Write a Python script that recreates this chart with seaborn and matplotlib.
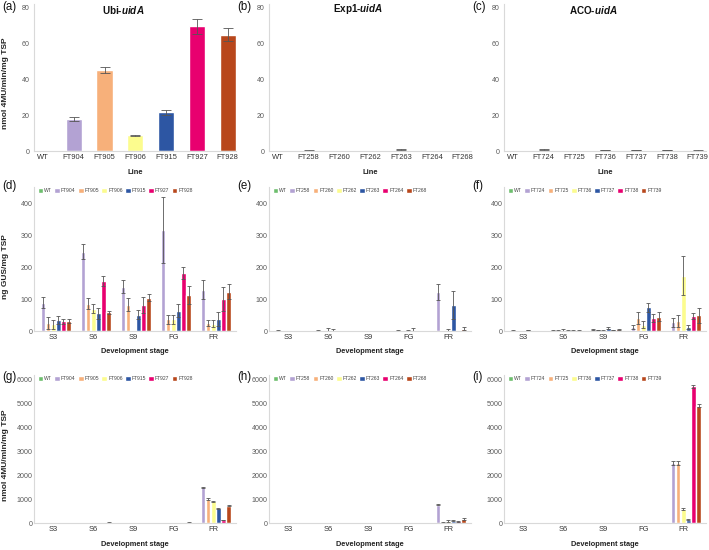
import numpy as np
import pandas as pd
import matplotlib
matplotlib.use("Agg")
import matplotlib.pyplot as plt
from matplotlib.container import BarContainer
import seaborn as sns

# ---- data ----
stages = ["S3", "S6", "S9", "FG", "FR"]
ubi_lines = ["WT", "FT904", "FT905", "FT906", "FT915", "FT927", "FT928"]
exp_lines = ["WT", "FT258", "FT260", "FT262", "FT263", "FT264", "FT268"]
aco_lines = ["WT", "FT724", "FT725", "FT736", "FT737", "FT738", "FT739"]
line_colors = ["#6dbe6d", "#b3a2d3", "#f7b07a", "#fcfc8e", "#2d56a3", "#e8006f", "#b8471c"]

# row 1: leaf GUS activity per line (nmol 4MU/min/mg TSP)
ubi_leaf = [0, 17.9, 45.3, 8.7, 21.6, 69.8, 65.0]
ubi_leaf_err = [0, 1.3, 1.8, 0.4, 1.6, 4.3, 3.6]
exp_leaf = [0, 0.3, 0.05, 0.05, 0.8, 0.05, 0.05]
exp_leaf_err = [0, 0.1, 0, 0, 0.15, 0, 0]
aco_leaf = [0, 0.8, 0.2, 0.5, 0.4, 0.4, 0.3]
aco_leaf_err = [0, 0.15, 0.05, 0.1, 0.05, 0.05, 0.05]

# row 2: ng GUS/mg TSP, one list per line over stages
ubi_gus = [[0, 0, 0, 0, 0],
           [89, 248, 139, 316, 129],
           [24, 85, 82, 37, 26],
           [21, 70, 0, 36, 23],
           [35, 55, 51, 64, 38],
           [30, 157, 81, 181, 100],
           [32, 58, 104, 112, 123]]
ubi_gus_err = [[0, 0, 0, 0, 0],
               [18, 23, 20, 102, 30],
               [19, 17, 20, 14, 9],
               [14, 14, 0, 13, 12],
               [12, 18, 14, 21, 22],
               [7, 15, 24, 19, 38],
               [7, 6, 11, 28, 23]]
exp_gus = [[0, 0, 0, 0, 0],
           [1, 1, 0, 1, 122],
           [0, 0, 0, 0, 0],
           [0, 3, 0, 1, 3],
           [0, 3, 0, 4, 81],
           [0, 0, 0, 0, 0],
           [0, 0, 0, 0, 7]]
exp_gus_err = [[0, 0, 0, 0, 0],
               [1, 1, 0, 1, 25],
               [0, 0, 0, 0, 0],
               [0, 5, 0, 1, 4],
               [0, 2, 0, 5, 44],
               [0, 0, 0, 0, 0],
               [0, 0, 0, 0, 5]]
aco_gus = [[0, 0, 0, 0, 0],
           [2, 2, 5, 12, 27],
           [0, 1, 3, 40, 32],
           [0, 3, 1, 20, 173],
           [3, 1, 10, 74, 13],
           [1, 1, 3, 40, 48],
           [1, 2, 5, 45, 49]]
aco_gus_err = [[0, 0, 0, 0, 0],
               [1, 1, 2, 7, 13],
               [0, 1, 1, 19, 19],
               [0, 2, 1, 10, 61],
               [1, 1, 4, 14, 7],
               [0, 1, 1, 12, 9],
               [0, 1, 2, 13, 23]]

# row 3: nmol 4MU/min/mg TSP over stages
ubi_mu = [[0, 0, 0, 0, 0],
          [10, 10, 15, 10, 1480],
          [5, 5, 10, 5, 990],
          [5, 5, 5, 5, 900],
          [10, 10, 5, 5, 620],
          [10, 15, 5, 10, 120],
          [10, 20, 5, 20, 720]]
ubi_mu_err = [[0, 0, 0, 0, 0],
              [5, 5, 5, 5, 40],
              [3, 3, 5, 3, 40],
              [3, 3, 3, 3, 30],
              [5, 5, 3, 3, 20],
              [5, 5, 3, 5, 10],
              [5, 8, 3, 8, 20]]
exp_mu = [[0, 0, 0, 0, 0],
          [2, 3, 5, 2, 770],
          [1, 1, 1, 1, 30],
          [1, 2, 3, 1, 80],
          [2, 3, 5, 2, 90],
          [1, 1, 1, 1, 70],
          [1, 2, 2, 1, 170]]
exp_mu_err = [[0, 0, 0, 0, 0],
              [1, 1, 2, 1, 30],
              [0, 0, 0, 0, 10],
              [0, 1, 1, 0, 40],
              [1, 1, 2, 1, 20],
              [0, 0, 0, 0, 15],
              [0, 1, 1, 0, 30]]
aco_mu = [[0, 0, 0, 0, 0],
          [5, 3, 5, 3, 2500],
          [5, 3, 5, 3, 2500],
          [3, 3, 3, 3, 590],
          [3, 3, 3, 3, 140],
          [5, 5, 5, 5, 5700],
          [5, 5, 5, 5, 4880]]
aco_mu_err = [[0, 0, 0, 0, 0],
              [2, 1, 2, 1, 80],
              [2, 1, 2, 1, 80],
              [1, 1, 1, 1, 30],
              [1, 1, 1, 1, 20],
              [2, 2, 2, 2, 60],
              [2, 2, 2, 2, 60]]

# ---- style ----
sns.set_theme(style="white")
plt.rcParams["font.family"] = ["Liberation Sans", "DejaVu Sans"]
plt.rcParams["mathtext.fontset"] = "custom"
plt.rcParams["mathtext.it"] = "Liberation Sans:italic:bold"
plt.rcParams["mathtext.rm"] = "Liberation Sans:bold"

W, H = 709, 550
fig = plt.figure(figsize=(W / 100, H / 100), dpi=100)
col_x = [0, 235, 470]


def make_ax(col, top_px, bottom_px):
    left = col_x[col] + 34
    return fig.add_axes([left / W, 1 - bottom_px / H, 202 / W, (bottom_px - top_px) / H])


def style_ax(ax, ymax, yticks, ypad):
    ax.set_ylim(0, ymax)
    ax.set_yticks(yticks)
    for s in ["top", "right"]:
        ax.spines[s].set_visible(False)
    for s in ["left", "bottom"]:
        ax.spines[s].set_color("#d9d9d9")
        ax.spines[s].set_linewidth(0.8)
    ax.tick_params(axis="y", length=0, pad=ypad, labelsize=5.1, labelcolor="#595959")
    ax.tick_params(axis="x", length=0, pad=2, labelsize=5.4, labelcolor="#333333")


def add_errors(ax, err, capsize):
    bars = [c for c in ax.containers if isinstance(c, BarContainer)]
    for i, cont in enumerate(bars):
        for j, bar in enumerate(cont.patches):
            e = err[i][j]
            if e <= 0:
                continue
            x = bar.get_x() + bar.get_width() / 2
            ax.errorbar(x, bar.get_height(), yerr=e, fmt="none", ecolor="#555555",
                        elinewidth=0.6, capsize=capsize, capthick=0.6)


# ---- row 1: leaves ----
row1 = [(ubi_lines, ubi_leaf, ubi_leaf_err, "Ubi-"),
        (exp_lines, exp_leaf, exp_leaf_err, "Exp1-"),
        (aco_lines, aco_leaf, aco_leaf_err, "ACO-")]
r1_top = 8 - 2 * 143 / 80
for c, (lines, vals, errs, prom) in enumerate(row1):
    ax = make_ax(c, r1_top, 151)
    sns.barplot(x=lines, y=vals, hue=lines, palette=line_colors, width=0.53, saturation=1,
                errorbar=None, legend=False, ax=ax)
    add_errors(ax, [[e] for e in errs], 3.5)
    style_ax(ax, 82, [0, 20, 40, 60, 80], 3)
    ax.set_xlim(-0.29, 6.27)
    ax.text(0.44, 1 - (9.5 - r1_top) / (151 - r1_top), prom + r"$uidA$", transform=ax.transAxes,
            ha="center", va="center", fontsize=7.1, fontweight="bold", color="#111111")
    ax.set_xlabel("Line", fontsize=5.4, fontweight="bold", color="#222222")
    ax.xaxis.set_label_coords(0.5, -0.12)
    ax.xaxis.label.set_va("top")
    if c == 0:
        ax.set_ylabel("nmol 4MU/min/mg TSP", fontsize=6, fontweight="bold", color="#222222")
        ax.yaxis.set_label_coords(-0.126, 1 - (83 - r1_top) / (151 - r1_top))
    else:
        ax.set_ylabel("")

# ---- rows 2 and 3: development stages ----
r3_top = 523 - 144 * 6150 / 6000
rows = [
    (187, 331, 450, [0, 100, 200, 300, 400], "ng GUS/mg TSP", 266.5,
     [(ubi_lines, ubi_gus, ubi_gus_err), (exp_lines, exp_gus, exp_gus_err), (aco_lines, aco_gus, aco_gus_err)]),
    (r3_top, 523, 6150, [0, 1000, 2000, 3000, 4000, 5000, 6000], "nmol 4MU/min/mg TSP", 455,
     [(ubi_lines, ubi_mu, ubi_mu_err), (exp_lines, exp_mu, exp_mu_err), (aco_lines, aco_mu, aco_mu_err)]),
]
for top, bottom, ymax, yticks, ylab, ylab_px, panels in rows:
    for c, (lines, vals, errs) in enumerate(panels):
        ax = make_ax(c, top, bottom)
        df = pd.DataFrame([(st, ln, vals[i][j]) for i, ln in enumerate(lines)
                           for j, st in enumerate(stages)], columns=["stage", "line", "value"])
        sns.barplot(data=df, x="stage", y="value", hue="line", hue_order=lines, order=stages,
                    palette=line_colors, width=0.9, gap=0.1, saturation=1, errorbar=None, ax=ax)
        add_errors(ax, errs, 1.4)
        style_ax(ax, ymax, yticks, 1.2)
        ax.set_xlim(-0.48, 4.57)
        sns.move_legend(ax, "upper left", bbox_to_anchor=(0.015, 1.0), ncol=7, frameon=False,
                        title=None, fontsize=3.6, handlelength=1.15, handleheight=1.2,
                        handletextpad=0.2, columnspacing=0.45, borderaxespad=0.0, borderpad=0.1)
        for t in ax.get_legend().get_texts():
            t.set_color("#444444")
        ax.set_xlabel("Development stage", fontsize=5.3, fontweight="bold", color="#222222")
        ax.xaxis.set_label_coords(0.5, -0.12)
        ax.xaxis.label.set_va("top")
        if c == 0:
            ax.set_ylabel(ylab, fontsize=6, fontweight="bold", color="#222222")
            ax.yaxis.set_label_coords(-0.126, 1 - (ylab_px - top) / (bottom - top))
        else:
            ax.set_ylabel("")

# ---- panel letters ----
letters = [("(a)", 7), ("(b)", 7), ("(c)", 7), ("(d)", 186), ("(e)", 186), ("(f)", 186),
           ("(g)", 377), ("(h)", 377), ("(i)", 377)]
for k, (lab, ypx) in enumerate(letters):
    fig.text((col_x[k % 3] + 2) / W, 1 - ypx / H, lab, fontsize=8.3, ha="left", va="center",
             color="#111111")

fig.savefig("out.png", dpi=100)
